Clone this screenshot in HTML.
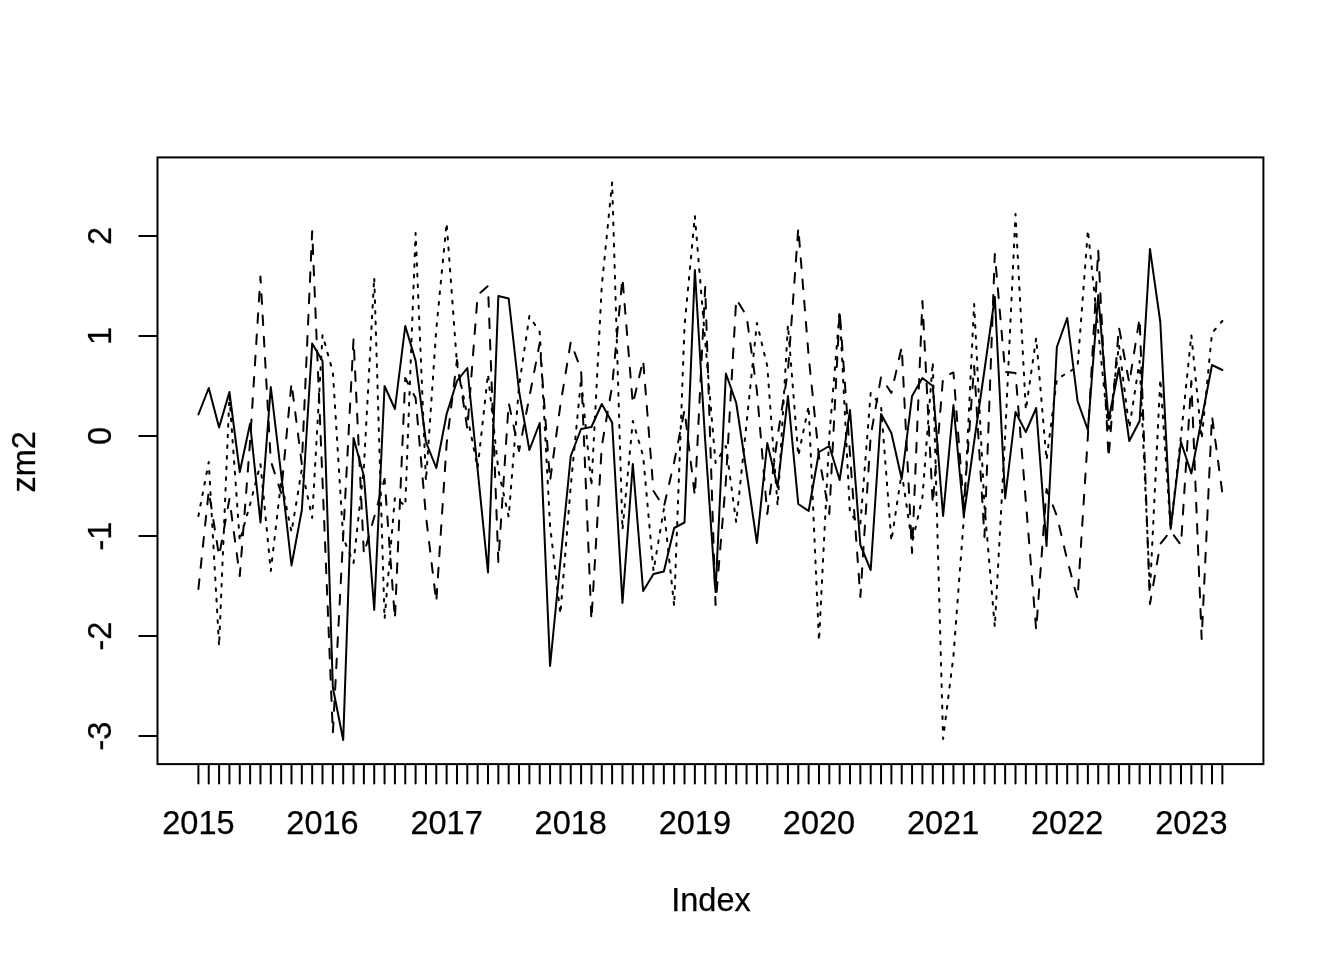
<!DOCTYPE html>
<html><head><meta charset="utf-8"><style>
html,body{margin:0;padding:0;background:#fff;width:1344px;height:960px;overflow:hidden}
svg{display:block;filter:grayscale(100%)}
text{font-family:"Liberation Sans",sans-serif;font-size:32.5px;fill:#000;text-anchor:middle;stroke:#000;stroke-width:0.25px}
</style></head><body>
<svg width="1344" height="960" viewBox="0 0 1344 960">
<rect x="0" y="0" width="1344" height="960" fill="#fff"/>
<g fill="none" stroke="#000" stroke-width="2" stroke-linejoin="round" stroke-linecap="round">
<polyline points="198.40,414.50 208.74,388.00 219.09,427.40 229.43,392.00 239.77,472.00 250.12,423.50 260.46,522.50 270.80,387.00 281.14,474.00 291.49,565.50 301.83,510.00 312.17,343.40 322.52,361.00 332.86,687.50 343.20,740.00 353.55,438.00 363.89,476.00 374.23,610.00 384.57,386.00 394.92,409.00 405.26,326.00 415.60,360.60 425.95,442.00 436.29,468.00 446.63,414.00 456.98,381.00 467.32,368.00 477.66,470.00 488.00,572.50 498.35,296.00 508.69,298.50 519.03,391.00 529.38,450.00 539.72,423.00 550.06,666.00 560.40,561.00 570.75,456.00 581.09,429.00 591.43,427.00 601.78,404.00 612.12,422.50 622.46,603.00 632.81,464.00 643.15,591.00 653.49,574.00 663.84,571.50 674.18,528.00 684.52,522.50 694.86,270.00 705.21,441.00 715.55,592.00 725.89,373.50 736.24,403.00 746.58,472.00 756.92,543.00 767.26,443.00 777.61,487.00 787.95,396.00 798.29,504.00 808.64,511.00 818.98,452.00 829.32,446.00 839.67,480.00 850.01,410.00 860.35,545.00 870.69,570.00 881.04,414.00 891.38,433.00 901.72,479.00 912.07,396.00 922.41,378.00 932.75,386.00 943.10,516.00 953.44,405.00 963.78,516.00 974.12,442.00 984.47,370.00 994.81,297.00 1005.15,498.50 1015.50,412.00 1025.84,432.00 1036.18,408.00 1046.53,546.00 1056.87,347.00 1067.21,318.00 1077.56,401.00 1087.90,430.00 1098.24,295.00 1108.58,420.00 1118.93,368.00 1129.27,441.00 1139.61,421.00 1149.96,249.00 1160.30,322.00 1170.64,529.00 1180.99,442.00 1191.33,473.50 1201.67,419.00 1212.01,365.00 1222.36,370.00"/>
<polyline points="198.40,589.00 208.74,491.00 219.09,556.00 229.43,499.00 239.77,576.00 250.12,441.00 260.46,276.60 270.80,461.00 281.14,493.00 291.49,383.00 301.83,464.00 312.17,231.25 322.52,481.00 332.86,733.00 343.20,536.00 353.55,339.00 363.89,554.00 374.23,517.00 384.57,479.00 394.92,619.00 405.26,378.00 415.60,398.00 425.95,516.00 436.29,602.00 446.63,444.00 456.98,360.00 467.32,429.00 477.66,295.00 488.00,286.00 498.35,562.00 508.69,403.00 519.03,451.00 529.38,397.00 539.72,343.00 550.06,481.00 560.40,405.00 570.75,342.00 581.09,370.00 591.43,620.00 601.78,446.00 612.12,386.00 622.46,278.00 632.81,404.00 643.15,360.00 653.49,491.00 663.84,507.00 674.18,462.00 684.52,410.00 694.86,496.00 705.21,287.00 715.55,605.00 725.89,481.00 736.24,299.00 746.58,316.00 756.92,391.00 767.26,514.00 777.61,436.00 787.95,371.00 798.29,228.00 808.64,356.00 818.98,457.00 829.32,514.00 839.67,311.00 850.01,454.00 860.35,597.00 870.69,436.00 881.04,377.00 891.38,393.00 901.72,347.00 912.07,553.00 922.41,301.00 932.75,504.00 943.10,377.00 953.44,372.50 963.78,506.00 974.12,366.00 984.47,537.00 994.81,254.00 1005.15,372.00 1015.50,373.00 1025.84,501.50 1036.18,630.00 1046.53,489.00 1056.87,516.00 1067.21,560.00 1077.56,599.00 1087.90,436.00 1098.24,250.00 1108.58,458.00 1118.93,327.00 1129.27,383.00 1139.61,318.00 1149.96,604.00 1160.30,544.00 1170.64,531.00 1180.99,545.00 1191.33,381.00 1201.67,639.00 1212.01,416.00 1222.36,493.00" stroke-dasharray="9.7 11.6"/>
<polyline points="198.40,516.00 208.74,462.00 219.09,646.00 229.43,396.00 239.77,541.00 250.12,504.00 260.46,464.00 270.80,571.00 281.14,481.00 291.49,532.00 301.83,469.00 312.17,518.00 322.52,335.00 332.86,372.00 343.20,538.00 353.55,563.00 363.89,467.00 374.23,277.30 384.57,619.00 394.92,497.50 405.26,506.00 415.60,233.00 425.95,481.00 436.29,329.00 446.63,223.00 456.98,364.00 467.32,416.00 477.66,468.00 488.00,374.00 498.35,470.00 508.69,517.00 519.03,386.00 529.38,316.00 539.72,332.00 550.06,526.00 560.40,614.00 570.75,486.00 581.09,379.00 591.43,486.00 601.78,286.00 612.12,182.50 622.46,530.00 632.81,421.00 643.15,456.00 653.49,571.00 663.84,509.00 674.18,606.00 684.52,326.00 694.86,216.00 705.21,341.00 715.55,463.00 725.89,446.00 736.24,522.50 746.58,423.00 756.92,323.00 767.26,366.00 777.61,506.00 787.95,325.00 798.29,456.00 808.64,406.00 818.98,641.00 829.32,436.00 839.67,311.00 850.01,514.00 860.35,524.00 870.69,393.00 881.04,406.00 891.38,541.00 901.72,472.50 912.07,543.00 922.41,497.50 932.75,362.00 943.10,739.00 953.44,656.00 963.78,519.00 974.12,304.00 984.47,506.00 994.81,627.00 1005.15,436.00 1015.50,214.00 1025.84,410.00 1036.18,338.00 1046.53,460.00 1056.87,379.00 1067.21,373.00 1077.56,367.00 1087.90,230.00 1098.24,331.00 1108.58,432.50 1118.93,345.00 1129.27,428.00 1139.61,361.00 1149.96,591.00 1160.30,379.00 1170.64,529.00 1180.99,436.00 1191.33,335.00 1201.67,439.00 1212.01,333.00 1222.36,321.00" stroke-dasharray="2.67 8"/>
</g>
<g fill="none" stroke="#000" stroke-width="2">
<rect x="157.5" y="157.4" width="1105.9" height="606.7"/>
<path d="M198.40 765V783.4M208.74 765V783.4M219.09 765V783.4M229.43 765V783.4M239.77 765V783.4M250.12 765V783.4M260.46 765V783.4M270.80 765V783.4M281.14 765V783.4M291.49 765V783.4M301.83 765V783.4M312.17 765V783.4M322.52 765V783.4M332.86 765V783.4M343.20 765V783.4M353.55 765V783.4M363.89 765V783.4M374.23 765V783.4M384.57 765V783.4M394.92 765V783.4M405.26 765V783.4M415.60 765V783.4M425.95 765V783.4M436.29 765V783.4M446.63 765V783.4M456.98 765V783.4M467.32 765V783.4M477.66 765V783.4M488.00 765V783.4M498.35 765V783.4M508.69 765V783.4M519.03 765V783.4M529.38 765V783.4M539.72 765V783.4M550.06 765V783.4M560.40 765V783.4M570.75 765V783.4M581.09 765V783.4M591.43 765V783.4M601.78 765V783.4M612.12 765V783.4M622.46 765V783.4M632.81 765V783.4M643.15 765V783.4M653.49 765V783.4M663.84 765V783.4M674.18 765V783.4M684.52 765V783.4M694.86 765V783.4M705.21 765V783.4M715.55 765V783.4M725.89 765V783.4M736.24 765V783.4M746.58 765V783.4M756.92 765V783.4M767.26 765V783.4M777.61 765V783.4M787.95 765V783.4M798.29 765V783.4M808.64 765V783.4M818.98 765V783.4M829.32 765V783.4M839.67 765V783.4M850.01 765V783.4M860.35 765V783.4M870.69 765V783.4M881.04 765V783.4M891.38 765V783.4M901.72 765V783.4M912.07 765V783.4M922.41 765V783.4M932.75 765V783.4M943.10 765V783.4M953.44 765V783.4M963.78 765V783.4M974.12 765V783.4M984.47 765V783.4M994.81 765V783.4M1005.15 765V783.4M1015.50 765V783.4M1025.84 765V783.4M1036.18 765V783.4M1046.53 765V783.4M1056.87 765V783.4M1067.21 765V783.4M1077.56 765V783.4M1087.90 765V783.4M1098.24 765V783.4M1108.58 765V783.4M1118.93 765V783.4M1129.27 765V783.4M1139.61 765V783.4M1149.96 765V783.4M1160.30 765V783.4M1170.64 765V783.4M1180.99 765V783.4M1191.33 765V783.4M1201.67 765V783.4M1212.01 765V783.4M1222.36 765V783.4M156.5 236.0H139.3M156.5 336.0H139.3M156.5 436.0H139.3M156.5 536.0H139.3M156.5 636.0H139.3M156.5 736.0H139.3" stroke-linecap="round"/>
</g>
<text x="198.40" y="834">2015</text><text x="322.52" y="834">2016</text><text x="446.63" y="834">2017</text><text x="570.75" y="834">2018</text><text x="694.86" y="834">2019</text><text x="818.98" y="834">2020</text><text x="943.10" y="834">2021</text><text x="1067.21" y="834">2022</text><text x="1191.33" y="834">2023</text>
<text transform="translate(111.3 236.0) rotate(-90)">2</text><text transform="translate(111.3 336.0) rotate(-90)">1</text><text transform="translate(111.3 436.0) rotate(-90)">0</text><text transform="translate(111.3 536.0) rotate(-90)">-1</text><text transform="translate(111.3 636.0) rotate(-90)">-2</text><text transform="translate(111.3 736.0) rotate(-90)">-3</text>
<text x="711" y="911">Index</text>
<text transform="translate(35.2 461.8) rotate(-90)">zm2</text>
</svg>
</body></html>
